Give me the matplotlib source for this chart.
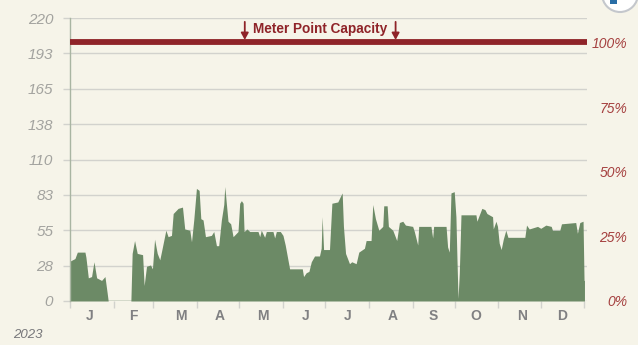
import matplotlib
matplotlib.use("Agg")
import matplotlib.pyplot as plt
from matplotlib.patches import Circle, Rectangle
from matplotlib.transforms import IdentityTransform

# days since 1 Jan, flow on the left scale
days = [0, 3.5, 5.2, 10.6, 11.3, 13, 15.3, 17, 18.9, 22.4, 24.8, 26.4, 27.1, 43.2, 44.1, 45.8, 47.7, 51.5, 52.6, 54.3,
        57.1, 58.5, 60, 61.9, 63.7, 65.4, 68, 69.6, 72, 73.2, 76.7, 79.8, 81.4, 85, 86.2, 87.8, 89.7, 91.6, 92.8, 94.4,
        96.1, 100.3, 102, 103.9, 105.5, 107.4, 109.1, 109.8, 111, 112.1, 114, 115.7, 119.2, 120.4, 121.6, 122.8, 123.5, 125.6, 127.5, 133.4,
        134.6, 135.7, 138.1, 139.3, 144, 145.2, 146.4, 149.2, 151.1, 152.7, 155.8, 164.8, 165.7, 167.6, 169.5, 171.2, 173.5, 177, 178.2, 178.9,
        179.9, 184.1, 185.8, 190, 191.7, 193.1, 194, 195.5, 198.3, 199.9, 203, 204.9, 208.9, 210.1, 213.6, 214.8, 216.7, 219.1, 221.9, 222.6,
        225, 225.9, 229, 231.8, 233.7, 236.1, 238, 243.1, 244.3, 246.7, 247.4, 256.1, 257.3, 258, 266.8, 267.9, 269.1, 270.3, 272.6, 273.8,
        274.5, 275.3, 276.2, 277.4, 288, 288.7, 289.9, 292.2, 294.4, 295.8, 299.8, 300.3, 302.2, 303.3, 304.5, 305.9, 307.4, 309.2, 310.7, 322.7,
        323.9, 325.8, 331.7, 334, 337.6, 341.4, 342.3, 347.5, 348.7, 358.8, 360, 361.7, 364, 364.7, 365]
flow = [31, 33, 38, 38, 34, 18, 19, 30.5, 18, 16, 19, 6, 0, 0, 37, 47, 37, 36, 12, 27,
        28, 25, 48, 37, 32, 41, 55, 50, 51, 68, 72, 73, 56, 55, 46, 63, 87.5, 86, 64, 63,
        50, 51, 54, 43, 43, 63, 75, 89, 75, 62, 60, 50, 54, 76, 78, 76, 54, 56, 54, 54,
        50, 55, 49.5, 54, 54, 49, 54, 54, 51, 43.5, 25, 25, 19, 22, 23, 30.5, 35, 35, 41, 65.5,
        40, 40, 76, 77, 81, 84, 58, 37, 29, 30.5, 29, 38, 41, 47, 47, 75, 64, 55, 58, 74,
        74, 58, 55, 47, 61, 62, 59, 58, 54, 43.5, 58, 58, 49, 58, 58, 42, 38, 84, 85, 65.5,
        34.5, 2, 21.5, 67, 67, 62, 65.5, 72, 71, 68, 65.5, 56, 62, 58, 45, 40, 48, 55, 49.5, 49.5,
        59, 56, 58, 56.5, 59, 58, 55, 55, 60, 61, 52.6, 61, 62, 16, 16]

capacity = 201
left_ticks = [0, 27.5, 55, 82.5, 110, 137.5, 165, 192.5, 220]
left_labels = ["0", "28", "55", "83", "110", "138", "165", "193", "220"]
pct_ticks = [0, 25, 50, 75, 100]
pct_labels = ["0%", "25%", "50%", "75%", "100%"]
month_edges = [0, 31, 59, 90, 120, 151, 181, 212, 243, 273, 304, 334, 365]
month_labels = ["J", "F", "M", "A", "M", "J", "J", "A", "S", "O", "N", "D"]
month_label_days = [14, 45, 79, 106, 137, 167, 197, 229, 258, 288, 321, 349]

BG = "#f6f4e9"
GRID = "#d2d2cd"
GREEN = "#6c8a66"
RED = "#8f2429"
FONT = ["Liberation Sans", "DejaVu Sans"]

W, H = 638, 345
fig = plt.figure(figsize=(W / 100, H / 100), dpi=100, facecolor=BG)
ax = fig.add_axes([70 / W, 1 - 301 / H, 517 / W, 283 / H], facecolor=BG)
ax.set_xlim(0, 366.8)
ax.set_ylim(0, 220)

for v in left_ticks:
    ax.axhline(v, color=GRID, lw=1, zorder=1)
ax.fill_between(days, flow, 0, color=GREEN, lw=0, zorder=2)
ax.plot([days[12], days[13]], [0, 0], color=GREEN, lw=1, zorder=2)
ax.axhline(capacity, color=RED, lw=4.2, zorder=3)

for s in ["top", "right", "bottom"]:
    ax.spines[s].set_visible(False)
ax.spines["left"].set_color("#a9b5a2")
ax.spines["left"].set_linewidth(1)

ax.set_yticks(left_ticks)
ax.set_yticklabels(left_labels, family=FONT, style="italic", fontsize=11, color="#a3a39f")
ax.tick_params(axis="y", length=5, width=1, color=GRID, pad=7)

ax.set_xticks(month_edges)
ax.set_xticklabels([])
ax.tick_params(axis="x", length=5, width=1, color=GRID)
for d, m in zip(month_label_days, month_labels):
    ax.text(d, -11.7, m, ha="center", va="center",
            family=FONT, fontsize=10, fontweight="bold", color="#808082")

ax.text(177.6, 211.5, "Meter Point Capacity", ha="center", va="center",
        family=FONT, fontsize=9.8, fontweight="bold", color=RED, zorder=4)
for d in [124, 231]:
    ax.annotate("", xy=(d, capacity + 2), xytext=(d, 217),
                arrowprops=dict(arrowstyle="-|>,head_width=0.22,head_length=0.4", color=RED,
                                lw=1.3, shrinkA=0, shrinkB=0), zorder=4)

ax2 = ax.twinx()
ax2.set_ylim(0, 220 / capacity * 100)
for s in ax2.spines.values():
    s.set_visible(False)
ax2.set_yticks(pct_ticks)
ax2.set_yticklabels(pct_labels, family=FONT, style="italic", fontsize=10, color="#a5403f", ha="right")
ax2.tick_params(axis="y", length=0, pad=29)

fig.text(13 / W, 1 - 335 / H, "2023", ha="left", va="center", family=FONT,
         style="italic", fontsize=9.5, color="#77777a")

# corner of the badge at top right
fig.add_artist(Circle((620, H + 6), 18, transform=IdentityTransform(),
                      facecolor="white", edgecolor="#c4c7cc", lw=1.5))
fig.add_artist(Rectangle((610, H - 4), 6.5, 4, transform=IdentityTransform(), facecolor="#2a6ea6", lw=0))

fig.savefig("out.png", dpi=100, facecolor=BG)
